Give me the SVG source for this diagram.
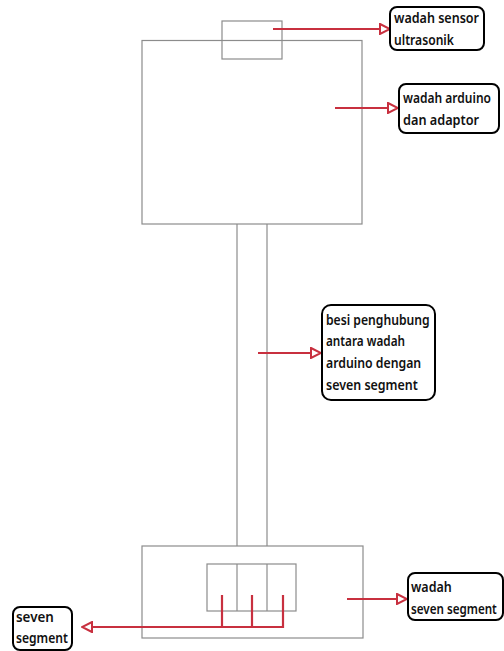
<svg xmlns="http://www.w3.org/2000/svg" width="504" height="651" viewBox="0 0 504 651">
<defs>
<style>
.g{fill:none;stroke:#8c8c8c;stroke-width:1.2}
.r{fill:none;stroke:#c8303f;stroke-width:2.2}
.lb{fill:#fff;stroke:#000;stroke-width:2}
.t{font-family:"Noto Sans","Open Sans",sans-serif;font-size:14.5px;font-weight:600;fill:#111}
</style>
<marker id="ah" viewBox="0 0 12 12" refX="11" refY="6" markerWidth="12" markerHeight="12" markerUnits="userSpaceOnUse" orient="auto">
<path d="M1,1 L11,6 L1,11 Z" fill="#fff" stroke="#c8303f" stroke-width="2"/>
</marker>
</defs>
<rect width="504" height="651" fill="#fff"/>
<g id="wadah-arduino-box">
<rect class="g" x="142" y="40.5" width="220" height="183.5"/>
</g>
<g id="sensor-box">
<rect class="g" x="222" y="21" width="60" height="38" fill="#fff"/>
</g>
<g id="besi">
<line class="g" x1="237" y1="224" x2="237" y2="546"/>
<line class="g" x1="267" y1="224" x2="267" y2="546"/>
</g>
<g id="wadah-seven-box">
<rect class="g" x="142" y="546" width="221" height="92"/>
</g>
<g id="seven-segment">
<rect class="g" x="207" y="564" width="89" height="47"/>
<line class="g" x1="237" y1="564" x2="237" y2="611"/>
<line class="g" x1="267" y1="564" x2="267" y2="611"/>
</g>
<g id="connectors">
<line class="r" x1="273" y1="29" x2="390" y2="29" marker-end="url(#ah)"/>
<line class="r" x1="335" y1="108" x2="398" y2="108" marker-end="url(#ah)"/>
<line class="r" x1="258" y1="353" x2="321" y2="353" marker-end="url(#ah)"/>
<line class="r" x1="347" y1="599" x2="407" y2="599" marker-end="url(#ah)"/>
<path class="r" d="M222,595 V627 M252,595 V627 M283,595 V627 H82" marker-end="url(#ah)"/>
</g>
<g id="label-sensor">
<rect class="lb" x="390" y="7" width="94" height="43" rx="7"/>
<text class="t" transform="translate(394,23) scale(0.85,1)" textLength="100" lengthAdjust="spacingAndGlyphs">wadah sensor</text>
<text class="t" transform="translate(394,45) scale(0.85,1)" textLength="70.5" lengthAdjust="spacingAndGlyphs">ultrasonik</text>
</g>
<g id="label-arduino">
<rect class="lb" x="399" y="84" width="100" height="49" rx="7"/>
<text class="t" transform="translate(403,103) scale(0.85,1)" textLength="103.5" lengthAdjust="spacingAndGlyphs">wadah arduino</text>
<text class="t" transform="translate(403,125) scale(0.85,1)" textLength="89.5" lengthAdjust="spacingAndGlyphs">dan adaptor</text>
</g>
<g id="label-besi">
<rect class="lb" x="322" y="305" width="113" height="95" rx="9"/>
<text class="t" transform="translate(326,325) scale(0.85,1)" textLength="122" lengthAdjust="spacingAndGlyphs">besi penghubung</text>
<text class="t" transform="translate(326,346) scale(0.85,1)" textLength="93" lengthAdjust="spacingAndGlyphs">antara wadah</text>
<text class="t" transform="translate(326,368) scale(0.85,1)" textLength="112" lengthAdjust="spacingAndGlyphs">arduino dengan</text>
<text class="t" transform="translate(326,390) scale(0.85,1)" textLength="108" lengthAdjust="spacingAndGlyphs">seven segment</text>
</g>
<g id="label-wadah-seven">
<rect class="lb" x="408" y="573" width="95" height="47" rx="7"/>
<text class="t" transform="translate(411,592) scale(0.85,1)" textLength="48" lengthAdjust="spacingAndGlyphs">wadah</text>
<text class="t" transform="translate(411,614) scale(0.85,1)" textLength="101" lengthAdjust="spacingAndGlyphs">seven segment</text>
</g>
<g id="label-seven">
<rect class="lb" x="13" y="607" width="59" height="43" rx="7"/>
<text class="t" transform="translate(16,622) scale(0.85,1)" textLength="44.5" lengthAdjust="spacingAndGlyphs">seven</text>
<text class="t" transform="translate(16,643) scale(0.85,1)" textLength="61" lengthAdjust="spacingAndGlyphs">segment</text>
</g>
</svg>
